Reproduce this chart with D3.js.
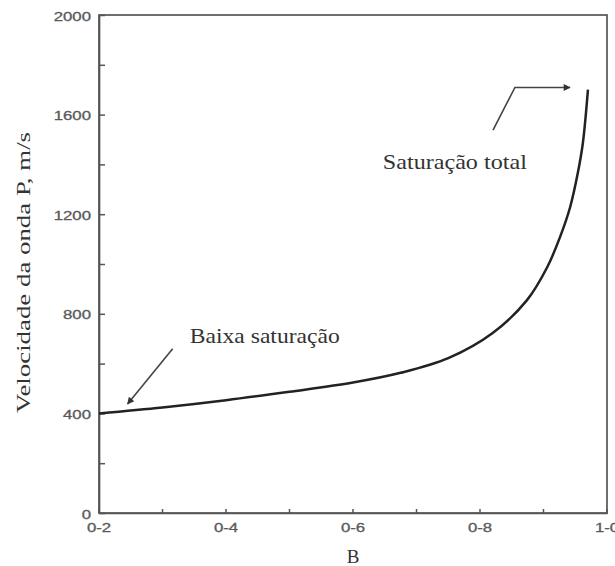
<!DOCTYPE html>
<html>
<head>
<meta charset="utf-8">
<script src="https://cdn.jsdelivr.net/npm/d3@7"></script>
<style>
body { margin: 0; background: #fff; }
.tick text { font-family: "Liberation Sans", Arial, sans-serif; font-size: 12px; fill: #5a5a5a; stroke: #5a5a5a; stroke-width: 0.3px; }
.lbl { font-family: "Liberation Serif", "Times New Roman", serif; font-size: 21px; fill: #333; }
</style>
</head>
<body>
<script>
"use strict";
// curve
const saturation = [0.2, 0.3, 0.4, 0.5, 0.6, 0.675, 0.75, 0.82, 0.874, 0.906, 0.926, 0.942, 0.954, 0.962, 0.97];
const velocity = [400, 424, 453, 487, 524, 563, 622, 723, 855, 988, 1108, 1229, 1365, 1486, 1700];
const xTicks = [0.2, 0.3, 0.4, 0.5, 0.6, 0.7, 0.8, 0.9, 1.0];
const xLabels = {"0.2": "0-2", "0.4": "0-4", "0.6": "0-6", "0.8": "0-8", "1": "1-0"};
const yTicks = [0, 200, 400, 600, 800, 1000, 1200, 1400, 1600, 1800, 2000];
const yLabeled = [0, 400, 800, 1200, 1600, 2000];

const size = {"width": 615, "height": 566};
const stretch = 1.4; // the scanned text is wide
const svg = d3.select("body").append("svg")
	.attr("width", size.width)
	.attr("height", size.height);

const x = d3.scaleLinear().domain([0.2, 1.0]).range([99, 607]);
const y = d3.scaleLinear().domain([0, 2000]).range([513, 15]);

// frame
svg.append("rect")
	.attr("x", x(0.2)).attr("y", y(2000))
	.attr("width", x(1.0) - x(0.2)).attr("height", y(0) - y(2000))
	.attr("fill", "none").attr("stroke", "#555").attr("stroke-width", 1.7);

const yAxis = d3.axisLeft(y)
	.tickValues(yTicks)
	.tickSizeInner(-6).tickSizeOuter(0)
	.tickPadding(8)
	.tickFormat((d) => yLabeled.includes(d) ? d : "");
const gy = svg.append("g").attr("transform", "translate(" + x(0.2) + ",0)").call(yAxis);
gy.selectAll(".tick text")
	.attr("transform", "scale(" + stretch + ",1)")
	.attr("x", -8 / stretch)
	.attr("dy", "0.42em");

const xAxis = d3.axisBottom(x)
	.tickValues(xTicks)
	.tickSizeInner(-4).tickSizeOuter(0)
	.tickPadding(10)
	.tickFormat((d) => xLabels[String(+d.toFixed(1))] || "");
const gx = svg.append("g").attr("transform", "translate(0," + y(0) + ")").call(xAxis);
gx.selectAll(".tick").each(function(d) {
	const t = d3.select(this);
	t.attr("transform", "translate(" + x(d) + ",0) scale(" + stretch + ",1)");
	t.select("line").attr("transform", "scale(" + (1 / stretch) + ",1)");
});

[gx, gy].forEach((g) => {
	g.select(".domain").attr("stroke", "#555").attr("stroke-width", 1.7);
	g.selectAll(".tick line").attr("stroke", "#555").attr("stroke-width", 1.5);
});

// curve
const line = d3.line()
	.x((d, i) => x(saturation[i]))
	.y((d) => y(d))
	.curve(d3.curveCatmullRom.alpha(0.5));
svg.append("path")
	.datum(velocity)
	.attr("d", line)
	.attr("fill", "none")
	.attr("stroke", "#222")
	.attr("stroke-width", 2.5);

// arrows
svg.append("defs").append("marker")
	.attr("id", "head")
	.attr("viewBox", "0 0 10 10")
	.attr("refX", 9).attr("refY", 5)
	.attr("markerWidth", 11).attr("markerHeight", 7)
	.attr("markerUnits", "userSpaceOnUse")
	.attr("orient", "auto")
	.append("path").attr("d", "M0,0 L10,5 L0,10 z").attr("fill", "#333");

svg.append("line")
	.attr("x1", x(0.316)).attr("y1", y(660))
	.attr("x2", x(0.245)).attr("y2", y(438))
	.attr("stroke", "#444").attr("stroke-width", 1.6)
	.attr("marker-end", "url(#head)");

svg.append("polyline")
	.attr("points", [[x(0.8205), y(1538)], [x(0.855), y(1709)], [x(0.9417), y(1709)]].map((p) => p.join(",")).join(" "))
	.attr("fill", "none")
	.attr("stroke", "#444").attr("stroke-width", 1.6)
	.attr("marker-end", "url(#head)");

// text labels
svg.append("text").attr("class", "lbl")
	.attr("x", x(0.343)).attr("y", y(683))
	.attr("textLength", 150).attr("lengthAdjust", "spacingAndGlyphs")
	.text("Baixa saturação");
svg.append("text").attr("class", "lbl")
	.attr("x", x(0.647)).attr("y", y(1382))
	.attr("textLength", 144).attr("lengthAdjust", "spacingAndGlyphs")
	.text("Saturação total");

svg.append("text").attr("class", "lbl")
	.attr("transform", "translate(30," + y(966) + ") rotate(-90)")
	.attr("text-anchor", "middle")
	.style("font-size", "19px")
	.attr("textLength", 281).attr("lengthAdjust", "spacingAndGlyphs")
	.text("Velocidade da onda P, m/s");
svg.append("text").attr("class", "lbl")
	.attr("x", x(0.6)).attr("y", 563)
	.attr("text-anchor", "middle")
	.style("font-size", "19px")
	.text("B");
</script>
</body>
</html>
